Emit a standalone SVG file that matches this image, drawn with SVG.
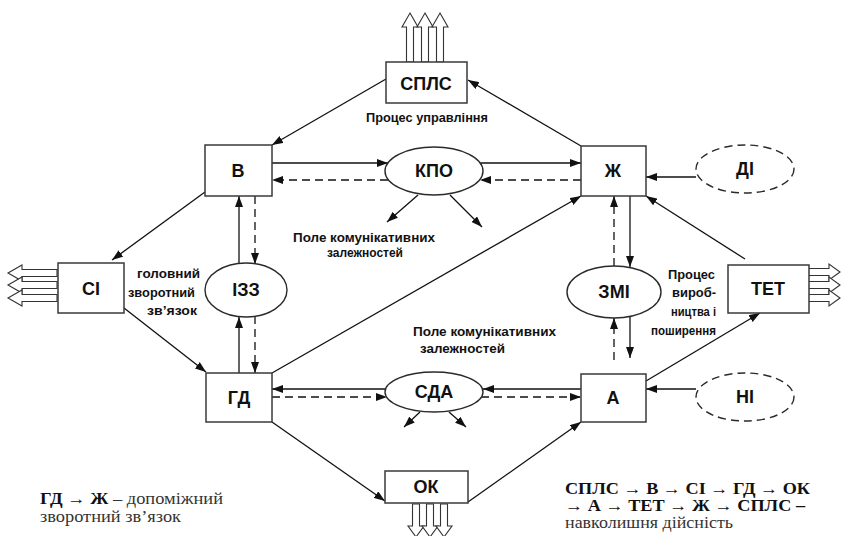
<svg xmlns="http://www.w3.org/2000/svg" width="843" height="536" viewBox="0 0 843 536">
  <style>
    .box { fill: #fff; stroke: #3a3a3a; stroke-width: 1.5; }
    .ell { fill: #fff; stroke: #2a2a2a; stroke-width: 1.4; }
    .ell-d { fill: #fff; stroke: #2a2a2a; stroke-width: 1.4; stroke-dasharray: 8 5; }
    .lbl { font-family: "Liberation Sans", Arial, sans-serif; font-weight: bold; font-size: 18px; fill: #111; text-anchor: middle; }
    .note { font-family: "Liberation Sans", Arial, sans-serif; font-weight: bold; font-size: 13px; fill: #111; }
    .cap { font-family: "Liberation Serif", "Times New Roman", serif; font-size: 16px; fill: #333; }
    .cap-b { font-weight: bold; fill: #111; }
    .ln-a { fill: none; stroke: #111; stroke-width: 1.3; marker-end: url(#head); }
    .dash-a { fill: none; stroke: #111; stroke-width: 1.3; stroke-dasharray: 8 5; marker-end: url(#head); }
    .big { fill: #fff; stroke: #333; stroke-width: 1.1; }
  </style>
  <defs>
    <marker id="head" viewBox="0 0 11 8" refX="11" refY="4" markerWidth="11" markerHeight="8" markerUnits="userSpaceOnUse" orient="auto">
      <path d="M0,0 L11,4 L0,8 z" fill="#111"/>
    </marker>
    <!-- hollow output arrows, pointing up, tip at origin -->
    <path id="bigLong" d="M0,0 L8,14 L3.5,14 L3.5,49 L-3.5,49 L-3.5,14 L-8,14 z"/>
    <path id="bigShort" d="M0,0 L8,11 L3.5,11 L3.5,33 L-3.5,33 L-3.5,11 L-8,11 z"/>
  </defs>

  <rect width="843" height="536" fill="#fff"/>

  <!-- hollow output arrows -->
  <g id="outputs" class="big">
    <use href="#bigLong" transform="translate(410,13)"/>
    <use href="#bigLong" transform="translate(425,13)"/>
    <use href="#bigLong" transform="translate(440,13)"/>
    <use href="#bigLong" transform="translate(8,273) rotate(-90)"/>
    <use href="#bigLong" transform="translate(8,285) rotate(-90)"/>
    <use href="#bigLong" transform="translate(8,298) rotate(-90)"/>
    <use href="#bigShort" transform="translate(840,272) rotate(90)"/>
    <use href="#bigShort" transform="translate(840,285) rotate(90)"/>
    <use href="#bigShort" transform="translate(840,298) rotate(90)"/>
    <use href="#bigShort" transform="translate(416,537) rotate(180)"/>
    <use href="#bigShort" transform="translate(430,537) rotate(180)"/>
    <use href="#bigShort" transform="translate(444,537) rotate(180)"/>
  </g>

  <!-- connectors -->
  <g id="connectors">
    <path class="ln-a" d="M272,163 L388,163"/>
    <path class="ln-a" d="M481,163 L581,163"/>
    <path class="dash-a" d="M581,180 L480,180"/>
    <path class="dash-a" d="M388,180 L272,180"/>
    <path class="ln-a" d="M696,177 L646,177"/>
    <path class="ln-a" d="M418,195 L387,222"/>
    <path class="ln-a" d="M450,195 L482,227"/>
    <path class="ln-a" d="M386,79 L272,145"/>
    <path class="ln-a" d="M581,146 L468,80"/>
    <path class="ln-a" d="M205,192 L112,260"/>
    <path class="ln-a" d="M124,308 L206,372"/>
    <path class="ln-a" d="M239,373 L239,317"/>
    <path class="ln-a" d="M239,263 L239,196"/>
    <path class="dash-a" d="M255,196 L255,264"/>
    <path class="dash-a" d="M255,316 L255,373"/>
    <path class="ln-a" d="M272,373 L581,196"/>
    <path class="ln-a" d="M581,389 L483,389"/>
    <path class="ln-a" d="M385,389 L272,389"/>
    <path class="dash-a" d="M272,397 L387,397"/>
    <path class="dash-a" d="M481,397 L581,397"/>
    <path class="ln-a" d="M420,412 L404,427"/>
    <path class="ln-a" d="M449,412 L466,427"/>
    <path class="ln-a" d="M696,389 L646,389"/>
    <path class="ln-a" d="M272,422 L385,501"/>
    <path class="ln-a" d="M468,502 L581,422"/>
    <path class="ln-a" d="M646,381 L760,313"/>
    <path class="ln-a" d="M745,259 L646,196"/>
    <path class="ln-a" d="M630,196 L630,267"/>
    <path class="dash-a" d="M614,266 L614,196"/>
    <path class="ln-a" d="M630,316 L630,358"/>
    <path class="dash-a" d="M614,360 L614,318"/>
  </g>

  <!-- rectangular nodes -->
  <g id="node-spls"><rect class="box" x="386" y="62" width="81" height="41"/><text class="lbl" x="426" y="90">СПЛС</text></g>
  <g id="node-v"><rect class="box" x="205" y="145" width="67" height="51"/><text class="lbl" x="238" y="177">В</text></g>
  <g id="node-zh"><rect class="box" x="581" y="146" width="65" height="50"/><text class="lbl" x="613" y="177">Ж</text></g>
  <g id="node-si"><rect class="box" x="58" y="263" width="66" height="50"/><text class="lbl" x="91" y="295">СІ</text></g>
  <g id="node-tet"><rect class="box" x="728" y="265" width="81" height="48"/><text class="lbl" x="768" y="295">ТЕТ</text></g>
  <g id="node-gd"><rect class="box" x="206" y="373" width="66" height="49"/><text class="lbl" x="239" y="404">ГД</text></g>
  <g id="node-a"><rect class="box" x="581" y="374" width="65" height="48"/><text class="lbl" x="613" y="404">А</text></g>
  <g id="node-ok"><rect class="box" x="385" y="471" width="83" height="32"/><text class="lbl" x="426" y="493">ОК</text></g>

  <!-- elliptical nodes -->
  <g id="node-kpo"><ellipse class="ell" cx="434" cy="171" rx="49" ry="24"/><text class="lbl" x="434" y="177">КПО</text></g>
  <g id="node-izz"><ellipse class="ell" cx="246" cy="290" rx="41" ry="27"/><text class="lbl" x="246" y="296">ІЗЗ</text></g>
  <g id="node-zmi"><ellipse class="ell" cx="614" cy="292" rx="47" ry="26"/><text class="lbl" x="614" y="298">ЗМІ</text></g>
  <g id="node-sda"><ellipse class="ell" cx="434" cy="392" rx="49" ry="20"/><text class="lbl" x="434" y="398">СДА</text></g>
  <g id="node-di"><ellipse class="ell-d" cx="745" cy="169" rx="49" ry="24"/><text class="lbl" x="745" y="175">ДІ</text></g>
  <g id="node-ni"><ellipse class="ell-d" cx="745" cy="397" rx="49" ry="24"/><text class="lbl" x="745" y="403">НІ</text></g>

  <!-- annotations -->
  <g id="annotations">
    <text class="note" x="366" y="122" textLength="122" lengthAdjust="spacingAndGlyphs">Процес управління</text>
    <text class="note" x="293" y="242" textLength="142" lengthAdjust="spacingAndGlyphs">Поле комунікативних</text>
    <text class="note" x="327" y="257" textLength="76" lengthAdjust="spacingAndGlyphs">залежностей</text>
    <text class="note" x="413" y="336" textLength="143" lengthAdjust="spacingAndGlyphs">Поле комунікативних</text>
    <text class="note" x="420" y="353" textLength="85" lengthAdjust="spacingAndGlyphs">залежностей</text>
    <text class="note" x="137" y="278" textLength="63" lengthAdjust="spacingAndGlyphs">головний</text>
    <text class="note" x="128" y="297" textLength="67" lengthAdjust="spacingAndGlyphs">зворотний</text>
    <text class="note" x="147" y="315" textLength="50" lengthAdjust="spacingAndGlyphs">зв’язок</text>
    <text class="note" x="668" y="279" textLength="47" lengthAdjust="spacingAndGlyphs">Процес</text>
    <text class="note" x="672" y="297" textLength="44" lengthAdjust="spacingAndGlyphs">вироб-</text>
    <text class="note" x="671" y="316" textLength="45" lengthAdjust="spacingAndGlyphs">ництва і</text>
    <text class="note" x="651" y="335" textLength="65" lengthAdjust="spacingAndGlyphs">поширення</text>
  </g>

  <!-- legend -->
  <g id="legend">
    <text class="cap" x="40" y="504" textLength="183" lengthAdjust="spacingAndGlyphs"><tspan class="cap-b">ГД → Ж</tspan> – допоміжний</text>
    <text class="cap" x="40" y="522" textLength="141" lengthAdjust="spacingAndGlyphs">зворотний зв’язок</text>
    <text class="cap cap-b" x="565" y="494" textLength="245" lengthAdjust="spacingAndGlyphs">СПЛС → В → СІ → ГД → ОК</text>
    <text class="cap cap-b" x="565" y="511" textLength="240" lengthAdjust="spacingAndGlyphs">→ А → ТЕТ → Ж → СПЛС –</text>
    <text class="cap" x="565" y="528" textLength="168" lengthAdjust="spacingAndGlyphs">навколишня дійсність</text>
  </g>
</svg>
